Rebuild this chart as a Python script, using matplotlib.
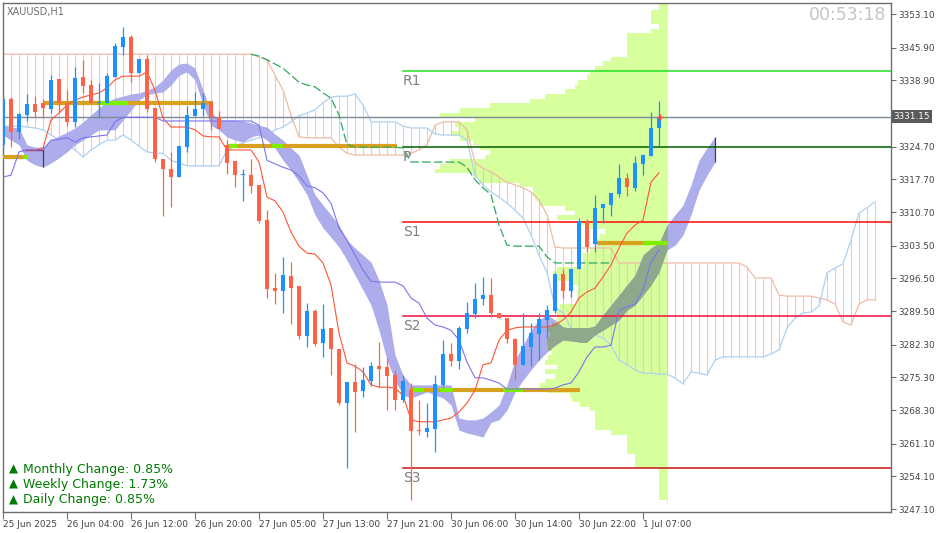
import numpy as np
import matplotlib.pyplot as plt
from matplotlib.path import Path
from matplotlib.transforms import blended_transform_factory

# ---------------- data (XAUUSD, H1) ----------------
opens = [3325.1, 3334.9, 3327.8, 3331.5, 3333.8, 3334.1, 3332.8, 3339.2, 3334.1, 3330.0,
         3339.6, 3337.9, 3334.1, 3334.1, 3339.6, 3346.0, 3348.2, 3340.5, 3343.5, 3333.0,
         3322.1, 3319.9, 3318.2, 3324.6, 3331.3, 3332.8, 3334.3, 3331.0, 3325.1, 3321.6,
         3318.6, 3318.6, 3316.5, 3309.0, 3294.4, 3293.8, 3297.0, 3294.9, 3284.2, 3289.5,
         3282.7, 3285.9, 3281.4, 3269.8, 3274.3, 3272.4, 3274.5, 3277.7, 3277.5, 3275.8,
         3270.5, 3272.6, 3264.0, 3263.6, 3264.3, 3273.7, 3280.3, 3278.8, 3285.7, 3288.9,
         3292.1, 3292.9, 3289.1, 3288.0, 3283.5, 3278.0, 3281.8, 3284.6, 3287.6, 3289.5,
         3297.4, 3293.8, 3298.5, 3308.6, 3303.9, 3311.6, 3312.2, 3314.6, 3318.0, 3315.9,
         3321.0, 3322.7, 3328.7]
highs = [3335.5, 3335.3, 3331.9, 3336.0, 3335.5, 3334.9, 3340.0, 3339.2, 3336.8, 3341.8,
         3343.3, 3339.0, 3338.3, 3340.5, 3346.9, 3350.3, 3348.6, 3343.5, 3344.3, 3333.0,
         3322.1, 3323.6, 3324.8, 3333.4, 3336.4, 3336.2, 3334.3, 3332.3, 3326.1, 3321.6,
         3319.9, 3322.1, 3316.5, 3311.1, 3297.7, 3301.1, 3300.0, 3294.9, 3291.2, 3289.9,
         3291.0, 3285.9, 3281.4, 3274.3, 3278.2, 3277.5, 3278.6, 3282.9, 3279.5, 3276.9,
         3275.8, 3274.1, 3270.5, 3269.8, 3275.8, 3283.3, 3282.7, 3286.3, 3291.4, 3295.5,
         3296.8, 3296.6, 3289.1, 3288.0, 3283.7, 3289.1, 3286.9, 3289.1, 3290.8, 3297.7,
         3298.5, 3298.5, 3309.4, 3309.2, 3314.4, 3312.4, 3314.8, 3321.0, 3319.1, 3322.7,
         3323.1, 3332.1, 3334.5]
lows = [3324.0, 3324.6, 3326.3, 3330.2, 3331.0, 3330.8, 3331.9, 3331.9, 3329.1, 3328.9,
        3336.2, 3334.1, 3331.0, 3334.1, 3339.6, 3344.3, 3338.5, 3340.5, 3332.1, 3321.4,
        3309.9, 3311.8, 3318.2, 3323.6, 3331.3, 3331.3, 3328.3, 3328.5, 3318.8, 3316.1,
        3313.1, 3314.8, 3308.4, 3292.3, 3291.0, 3289.1, 3286.7, 3283.5, 3281.8, 3282.0,
        3279.7, 3275.8, 3269.4, 3255.9, 3263.6, 3271.1, 3273.5, 3273.2, 3268.3, 3268.3,
        3270.0, 3249.1, 3263.0, 3262.5, 3259.3, 3273.2, 3277.7, 3277.1, 3284.8, 3288.0,
        3290.8, 3288.2, 3288.0, 3282.7, 3274.7, 3278.0, 3277.7, 3279.0, 3283.7, 3289.1,
        3292.3, 3292.5, 3298.5, 3302.2, 3302.2, 3308.4, 3309.9, 3313.9, 3314.1, 3315.2,
        3318.6, 3322.7, 3324.8]
closes = [3334.9, 3327.8, 3331.7, 3333.8, 3332.1, 3333.0, 3339.0, 3334.1, 3330.0, 3339.4,
          3337.7, 3334.1, 3334.3, 3339.8, 3346.3, 3348.2, 3340.5, 3343.5, 3332.8, 3322.1,
          3319.9, 3318.2, 3324.8, 3331.5, 3332.8, 3334.1, 3331.0, 3328.5, 3321.2, 3318.6,
          3318.8, 3316.3, 3308.8, 3294.2, 3293.8, 3297.2, 3294.4, 3284.2, 3289.5, 3282.4,
          3285.7, 3281.4, 3269.8, 3274.3, 3272.2, 3274.7, 3277.7, 3277.1, 3275.6, 3270.5,
          3274.5, 3263.8, 3263.8, 3264.5, 3273.9, 3280.3, 3278.8, 3285.9, 3289.1, 3292.1,
          3292.9, 3289.1, 3288.0, 3283.5, 3278.0, 3282.0, 3284.8, 3287.8, 3289.7, 3297.4,
          3293.8, 3298.5, 3308.8, 3303.2, 3311.6, 3312.4, 3314.8, 3318.0, 3316.1, 3321.2,
          3322.9, 3328.7, 3331.15]
last_price = 3331.15

tick_bars = [0, 8, 16, 24, 32, 40, 48, 56, 64, 72, 80]
tick_labels = ["25 Jun 2025", "26 Jun 04:00", "26 Jun 12:00", "26 Jun 20:00", "27 Jun 05:00",
               "27 Jun 13:00", "27 Jun 21:00", "30 Jun 06:00", "30 Jun 14:00", "30 Jun 22:00",
               "1 Jul 07:00"]
price_ticks = [3353.10, 3345.90, 3338.90, 3324.70, 3317.70, 3310.70, 3303.50, 3296.50,
               3289.50, 3282.30, 3275.30, 3268.30, 3261.10, 3254.10, 3247.10]

# ichimoku cloud, bar 0 .. 109 (shifted 26 bars ahead)
span_pink = [3344.5] * 32 + [
    3343.9, 3343.3, 3340.0, 3336.8, 3331.5, 3326.8, 3326.6, 3326.6, 3326.6, 3326.6,
    3324.6, 3323.3, 3322.9, 3322.9, 3322.9, 3322.9, 3322.9, 3322.9, 3322.9, 3323.3,
    3324.0, 3325.1, 3329.3, 3330.0, 3330.0, 3330.0, 3328.3, 3321.2, 3320.1, 3319.3,
    3318.2, 3317.1, 3316.5, 3315.9, 3315.0, 3313.3, 3310.1, 3303.2, 3303.0, 3303.0,
    3303.0, 3303.0, 3303.0, 3303.0, 3303.0, 3299.8, 3299.8, 3299.8, 3299.8, 3299.8,
    3299.8, 3299.8, 3299.8, 3299.8, 3299.8, 3299.8, 3299.8, 3299.8, 3299.8, 3299.8,
    3299.8, 3298.9, 3296.6, 3296.6, 3296.6, 3292.9, 3292.7, 3292.7, 3292.7, 3292.7,
    3292.3, 3291.9, 3291.0, 3287.2, 3286.5, 3291.0, 3291.9, 3291.9]
span_blue = [
    3329.1, 3329.1, 3329.1, 3328.9, 3328.7, 3328.3, 3327.2, 3326.1, 3325.1, 3324.0,
    3322.5, 3324.0, 3325.1, 3326.1, 3326.1, 3327.2, 3326.1, 3324.8, 3323.6, 3323.3,
    3323.3, 3321.8, 3321.2, 3320.6, 3320.6, 3320.6, 3320.6, 3320.6, 3324.0, 3324.8,
    3325.5, 3326.1, 3326.6, 3327.2, 3328.3, 3328.9, 3330.0, 3331.3, 3331.9, 3332.6,
    3334.1, 3335.3, 3335.5, 3335.5, 3336.0, 3333.6, 3330.0, 3330.0, 3330.0, 3330.0,
    3329.1, 3328.7, 3328.7, 3328.7, 3327.4, 3327.2, 3327.2, 3327.2, 3326.1, 3318.6,
    3316.5, 3315.0, 3313.9, 3312.6, 3311.1, 3309.4, 3305.8, 3301.5, 3297.7, 3290.4,
    3289.1, 3285.9, 3285.0, 3284.6, 3284.4, 3283.7, 3282.2, 3279.0, 3278.0, 3276.9,
    3276.2, 3276.2, 3276.0, 3276.0, 3275.2, 3273.9, 3276.5, 3276.2, 3275.8, 3279.0,
    3279.7, 3279.7, 3279.7, 3279.7, 3279.7, 3279.7, 3280.3, 3281.2, 3285.9, 3288.0,
    3289.1, 3289.3, 3290.6, 3297.7, 3298.7, 3299.6, 3304.7, 3310.5, 3311.6, 3312.9]

# lavender band, bar 0 .. 89
band_top = [
    3329.3, 3328.9, 3328.7, 3325.1, 3324.6, 3324.6, 3326.1, 3327.0, 3327.8, 3328.7,
    3330.0, 3331.5, 3333.0, 3334.3, 3335.1, 3335.5, 3336.0, 3336.2, 3336.8, 3337.5,
    3339.0, 3341.1, 3342.4, 3342.6, 3341.5, 3336.8, 3332.1, 3330.4, 3330.4, 3330.4,
    3330.2, 3329.8, 3329.3, 3328.9, 3327.4, 3326.1, 3324.4, 3322.9, 3318.6, 3314.4,
    3312.2, 3310.1, 3307.9, 3304.7, 3303.0, 3301.5, 3300.0, 3296.1, 3290.8, 3280.1,
    3275.8, 3273.7, 3273.7, 3273.7, 3273.7, 3273.7, 3273.7, 3266.6, 3266.2, 3266.2,
    3266.6, 3267.9, 3269.4, 3273.7, 3279.0, 3282.2, 3285.4, 3287.6, 3288.7, 3287.6,
    3286.1, 3285.9, 3285.9, 3285.9, 3286.3, 3288.7, 3290.8, 3292.9, 3295.1, 3297.2,
    3301.5, 3303.0, 3304.1, 3307.9, 3310.1, 3312.2, 3316.5, 3321.8, 3324.4, 3326.8]
band_bot = [
    3327.2, 3326.1, 3325.1, 3321.8, 3320.8, 3320.3, 3321.2, 3322.3, 3323.6, 3325.1,
    3326.1, 3327.2, 3328.3, 3328.3, 3328.3, 3330.4, 3332.5, 3334.7, 3335.8, 3336.2,
    3336.4, 3337.9, 3340.0, 3340.7, 3339.0, 3333.6, 3329.3, 3328.3, 3326.8, 3326.1,
    3325.7, 3326.8, 3327.2, 3326.1, 3324.4, 3321.8, 3319.7, 3317.1, 3314.4, 3310.1,
    3307.3, 3305.3, 3303.2, 3300.4, 3297.2, 3294.0, 3290.8, 3285.4, 3279.0, 3274.7,
    3271.5, 3270.9, 3271.5, 3272.2, 3271.5, 3270.9, 3269.4, 3264.0, 3263.4, 3263.0,
    3262.5, 3265.7, 3266.2, 3268.3, 3272.2, 3274.7, 3276.9, 3279.0, 3280.7, 3282.2,
    3283.3, 3283.1, 3282.9, 3282.9, 3284.4, 3285.4, 3286.5, 3287.6, 3289.7, 3290.8,
    3292.9, 3295.1, 3297.9, 3302.6, 3303.6, 3305.8, 3310.1, 3315.4, 3318.6, 3321.4]

# thin red line, bar 3 .. 82
red_line = [
    3324.0, 3324.0, 3324.4, 3330.4, 3331.9, 3333.6, 3334.7, 3335.3, 3335.8, 3336.2,
    3337.3, 3339.0, 3339.8, 3339.8, 3339.8, 3340.7, 3336.8, 3330.8, 3328.9, 3328.9,
    3328.9, 3328.3, 3327.0, 3326.8, 3326.8, 3324.0, 3324.0, 3324.0, 3324.0, 3321.4,
    3313.9, 3313.1, 3310.7, 3306.4, 3303.4, 3301.9, 3301.7, 3299.8, 3295.1, 3284.8,
    3278.4, 3277.7, 3276.5, 3273.7, 3273.2, 3273.2, 3273.0, 3271.5, 3266.2, 3265.8,
    3265.8, 3265.8, 3266.2, 3266.6, 3267.9, 3269.8, 3272.6, 3278.0, 3278.4, 3283.3,
    3285.4, 3285.9, 3286.1, 3286.1, 3286.1, 3286.1, 3286.5, 3287.6, 3289.3, 3292.3,
    3293.6, 3294.4, 3296.8, 3299.4, 3303.0, 3306.2, 3307.9, 3309.0, 3317.1, 3319.1]
# thin slate-blue line, bar 0 .. 82
blue_line = [
    3318.2, 3318.6, 3323.6, 3324.0, 3324.0, 3324.0, 3326.1, 3326.3, 3326.6, 3325.7,
    3326.6, 3326.8, 3327.0, 3327.2, 3330.0, 3331.0, 3331.0, 3331.0, 3331.0, 3331.0,
    3330.2, 3330.2, 3330.2, 3330.2, 3330.2, 3330.2, 3330.2, 3330.2, 3330.2, 3330.2,
    3330.2, 3330.2, 3329.3, 3321.8, 3321.0, 3320.3, 3319.7, 3318.4, 3316.3, 3315.9,
    3314.8, 3312.6, 3307.3, 3304.7, 3301.5, 3298.3, 3295.9, 3295.7, 3295.7, 3295.7,
    3294.9, 3292.3, 3291.2, 3288.0, 3286.5, 3286.1, 3285.4, 3283.3, 3278.6, 3275.2,
    3275.2, 3274.7, 3274.1, 3272.8, 3272.8, 3272.8, 3272.8, 3272.8, 3272.8, 3273.0,
    3273.7, 3274.1, 3276.5, 3279.7, 3281.8, 3281.8, 3282.2, 3289.7, 3290.4, 3291.0,
    3294.0, 3300.0, 3302.6]
# green dashed line, bar 31 .. 76
green_line = [
    3344.5, 3344.1, 3343.3, 3342.4, 3341.5, 3340.0, 3338.5, 3337.9, 3337.5, 3336.2,
    3335.1, 3331.5, 3325.1, 3324.6, 3324.6, 3324.6, 3324.6, 3324.6, 3324.6, 3324.4,
    3321.4, 3321.4, 3321.4, 3321.4, 3321.4, 3321.4, 3321.4, 3320.3, 3317.6, 3315.9,
    3314.4, 3307.9, 3303.6, 3303.4, 3303.4, 3303.4, 3303.4, 3301.1, 3299.8, 3299.8,
    3299.8, 3299.8, 3299.8, 3299.8, 3299.8, 3299.8]

# volume profile: one row per 1.0 price step starting at profile_levels
profile_levels = list(range(3248, 3356))
profile_volume = [
    1, 9, 9, 9, 9, 9, 9, 9, 33, 33, 33, 41, 41, 41, 41, 57, 73, 73, 73, 73,
    78, 88, 96, 98, 120, 128, 123, 113, 123, 111, 123, 120, 116, 120, 121, 121, 118, 121, 116, 111,
    111, 113, 108, 91, 91, 91, 90, 98, 111, 115, 111, 85, 85, 85, 78, 71, 71, 68, 63, 78,
    88, 111, 93, 103, 128, 133, 135, 135, 148, 188, 195, 233, 228, 218, 183, 178, 188, 195, 208, 216,
    208, 213, 193, 228, 208, 178, 138, 123, 103, 93, 90, 81, 78, 73, 65, 57, 41, 41, 41, 41,
    41, 17, 9, 17, 17, 17, 9, 9]

# support / resistance zones (price, first bar, last bar)
sr_price = [3322.5, 3334.05, 3324.8, 3272.6, 3304.1]
sr_start = [0, 5, 28, 50.9, 74.3]
sr_end = [3, 26.3, 49.3, 72.1, 83.1]
sr_touch = [(0, 2.5, 3.1), (1, 12.1, 15.6), (2, 28, 29.3), (2, 33.6, 35),
            (3, 51.3, 52.6), (3, 54.6, 56.3), (3, 62.5, 65), (4, 80, 83)]

# daily pivots
pivot_names = ["R1", "P", "S1", "S2", "S3"]
pivot_prices = [3340.9, 3324.6, 3308.6, 3288.4, 3255.9]
pivot_colors = ["#22E022", "#005F00", "#FF0A0A", "#F0103C", "#C81414"]
pivot_start = 50

changes = ["Monthly Change: 0.85%", "Weekly Change: 1.73%", "Daily Change: 0.85%"]

# ---------------- drawing ----------------
fig = plt.figure(figsize=(9.37, 5.33), dpi=100)
ax = fig.add_axes([3 / 937, 21 / 533, 888 / 937, 509 / 533])
ax.set_xlim(0, 111)
ax.set_ylim(3246.48, 3355.46)

n = len(opens)
bars = np.arange(n)
prof_right = n + 0.1
vol_scale = 1 / 8

# volume profile
pv = np.array(profile_volume) * vol_scale
pl = np.array(profile_levels)
ax.barh(pl + 0.5, pv, left=prof_right - pv, height=1.0, color="#D8FF9E",
        edgecolor="none", zorder=1)
verts, codes = [], []
for p, w in zip(pl, pv):
    x0 = prof_right - w
    verts += [(x0, p), (prof_right, p), (prof_right, p + 1), (x0, p + 1), (x0, p)]
    codes += [Path.MOVETO, Path.LINETO, Path.LINETO, Path.LINETO, Path.CLOSEPOLY]
profile_path = Path(verts, codes)

# ichimoku cloud hatch
cb = np.arange(len(span_pink))
sp = np.array(span_pink)
sb = np.array(span_blue)
hatch_col = np.where(sp >= sb, "#F2C6B6", "#BCD9F3")
ax.vlines(cb, np.minimum(sp, sb), np.maximum(sp, sb), colors=hatch_col, lw=0.8, zorder=2)
ax.plot(cb, sp, color="#F0BBA6", lw=0.9, zorder=2.5)
ax.plot(cb, sb, color="#AED1F2", lw=0.9, zorder=2.5)

# lavender band, turning grey-green where it sits on the profile
bb = np.arange(len(band_top))
ax.fill_between(bb, band_bot, band_top, color="#ADADEB", lw=0, zorder=3)
over = ax.fill_between(bb, band_bot, band_top, color="#8FA88C", lw=0, zorder=3.1)
over.set_clip_path(profile_path, ax.transData)
ax.vlines([bb[-1]], band_bot[-1], band_top[-1], colors="#404040", lw=0.9, zorder=3.2)
ax.vlines([5], band_bot[5], sr_price[0] + 1.5, colors="#404040", lw=0.9, zorder=3.2)
ax.plot([2.5, 5], [sr_price[0] + 1.5, sr_price[0] + 1.5], color="#A01010", lw=0.9, zorder=3.2)

# pivots
for name, p, c in zip(pivot_names, pivot_prices, pivot_colors):
    ax.plot([pivot_start, 111], [p, p], color=c, lw=1.1, zorder=4)
    ax.text(pivot_start, p - 0.6, name, color="#808080", fontsize=10, va="top",
            ha="left", zorder=8)

# current price line
ax.axhline(last_price, color="#7C8A99", lw=1.0, zorder=4)

# support / resistance zones
for p, s, e in zip(sr_price, sr_start, sr_end):
    ax.plot([s, e], [p, p], color="#D9A21E", lw=3.0, solid_capstyle="butt", zorder=5)
for k, s, e in sr_touch:
    ax.plot([s, e], [sr_price[k], sr_price[k]], color="#7CF000", lw=3.0,
            solid_capstyle="butt", zorder=5.1)

# indicator lines
ax.plot(np.arange(3, 3 + len(red_line)), red_line, color="#FF5436", lw=0.8, zorder=6)
ax.plot(np.arange(len(blue_line)), blue_line, color="#7B74EE", lw=0.8, zorder=6)
ax.plot(np.arange(31, 31 + len(green_line)), green_line, color="#2EAA5E", lw=0.9,
        ls=(0, (7, 2.5)), zorder=6)

# candles
o = np.array(opens)
c = np.array(closes)
up = c >= o
cols = np.where(up, "#1E90FF", "#FF6347")
ax.vlines(bars, lows, highs, colors=cols, lw=0.9, zorder=7)
body_lo = np.minimum(o, c)
body_h = np.maximum(np.abs(c - o), 0.25)
ax.bar(bars, body_h, bottom=body_lo, width=0.62, color=cols, edgecolor="none", zorder=7.1)
ax.plot([n - 0.9], [last_price], marker="+", color="#FF4030", ms=5, mew=1, zorder=8)

# axes styling
for s in ax.spines.values():
    s.set_color("#6E6E6E")
    s.set_linewidth(1)
ax.yaxis.tick_right()
ax.set_yticks(price_ticks)
ax.set_yticklabels([f"{v:.2f}" for v in price_ticks])
ax.tick_params(axis="y", direction="out", length=3.5, width=0.8, color="#6E6E6E",
               labelsize=6.4, labelcolor="#444444", pad=1.5)
ax.set_xticks(tick_bars)
ax.set_xticklabels(tick_labels)
ax.tick_params(axis="x", direction="out", length=5, width=0.8, color="#6E6E6E",
               labelsize=6.5, labelcolor="#444444", pad=1)
for lab in ax.get_xticklabels():
    lab.set_horizontalalignment("left")

trans = blended_transform_factory(ax.transAxes, ax.transData)
ax.text(1.003, last_price, f"{last_price:.2f}", transform=trans, color="white",
        fontsize=6.4, va="center", ha="left", zorder=9,
        bbox=dict(facecolor="#5A5A5A", edgecolor="none", pad=1.4))

# labels on the chart
fig.text(7 / 937, 1 - 12 / 533, "XAUUSD,H1", fontsize=7, color="#6E6E6E", va="center")
fig.text(886 / 937, 1 - 15 / 533, "00:53:18", fontsize=12.5, color="#C4C4C4",
         va="center", ha="right")
for k, t in enumerate(changes):
    yy = 1 - (469 + 15.3 * k) / 533
    fig.text(9 / 937, yy, "\u25B2", fontsize=8.5, color="#007A00", va="center")
    fig.text(23 / 937, yy, t, fontsize=9, color="#007A00", va="center")

fig.savefig("out.png", dpi=100)
